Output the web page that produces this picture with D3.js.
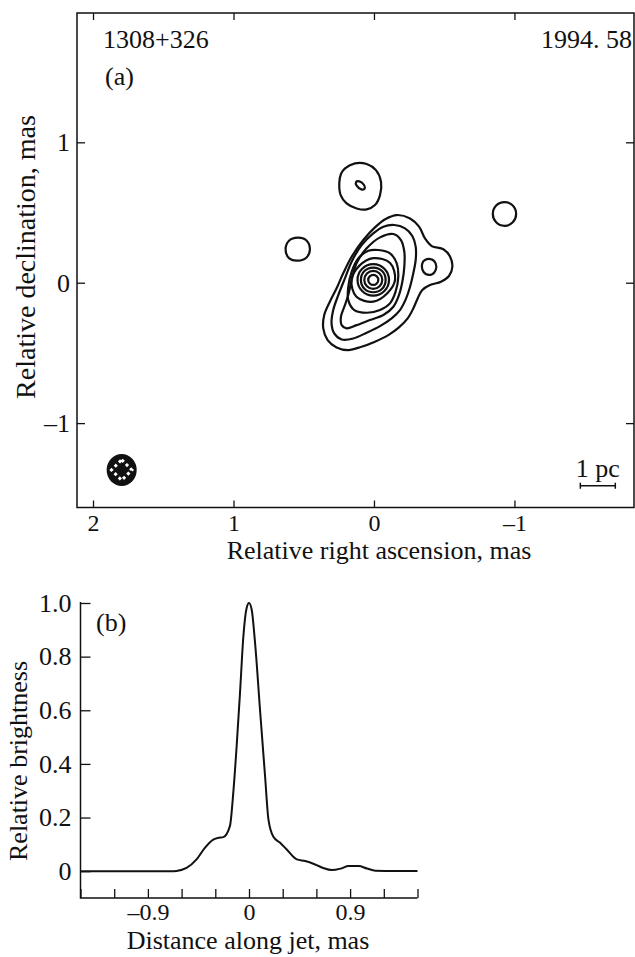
<!DOCTYPE html>
<meta charset="utf-8">
<style>
  body { margin: 0; background: #fff; }
  text { font-family: "Liberation Serif", "Times New Roman", serif; fill: #111; }
</style>
<svg width="635" height="957"></svg>
<script src="https://d3js.org/d3.v7.min.js"></script>
<script>

var svg = d3.select("svg");

var ink = "#111";
var fontSize = "26px";

// ---- panel (a): map, tick values ----
var raTicks = [2, 1, 0, -1];
var decTicks = [1, 0, -1];

// contours, [RA, Dec] in mas
var contour1 = [[-0.162,0.482],[-0.257,0.458],[-0.321,0.399],[-0.363,0.316],[-0.411,0.261],[-0.494,0.238],[-0.542,0.185],[-0.558,0.114],[-0.534,0.048],[-0.477,0.007],[-0.399,-0.017],[-0.344,-0.052],[-0.311,-0.112],[-0.280,-0.183],[-0.240,-0.254],[-0.178,-0.318],[-0.102,-0.373],[-0.007,-0.420],[0.088,-0.456],[0.183,-0.480],[0.266,-0.461],[0.330,-0.409],[0.361,-0.325],[0.354,-0.230],[0.314,-0.135],[0.266,-0.040],[0.219,0.067],[0.159,0.185],[0.076,0.304],[-0.007,0.394],[-0.083,0.454]];
var contour2 = [[-0.145,0.411],[-0.221,0.387],[-0.273,0.333],[-0.297,0.257],[-0.297,0.162],[-0.280,0.067],[-0.257,-0.029],[-0.226,-0.119],[-0.185,-0.195],[-0.126,-0.254],[-0.043,-0.309],[0.052,-0.356],[0.147,-0.397],[0.230,-0.404],[0.283,-0.361],[0.302,-0.290],[0.290,-0.195],[0.254,-0.088],[0.207,0.031],[0.159,0.150],[0.088,0.268],[0.005,0.352],[-0.067,0.399]];
var contour3 = [[-0.138,0.347],[-0.192,0.304],[-0.216,0.221],[-0.216,0.114],[-0.202,0.007],[-0.178,-0.088],[-0.138,-0.171],[-0.067,-0.230],[0.029,-0.266],[0.124,-0.302],[0.195,-0.325],[0.230,-0.302],[0.235,-0.242],[0.211,-0.171],[0.183,-0.088],[0.159,0.019],[0.124,0.138],[0.052,0.245],[-0.043,0.323]];
var contour4 = [[-0.031,0.233],[-0.114,0.209],[-0.162,0.138],[-0.173,0.043],[-0.154,-0.064],[-0.114,-0.147],[-0.043,-0.195],[0.052,-0.214],[0.140,-0.195],[0.183,-0.124],[0.183,-0.029],[0.159,0.078],[0.112,0.173],[0.040,0.228]];
var core5 = [[0.005,0.175],[-0.115,0.14],[-0.15,0.02],[-0.095,-0.075],[0.005,-0.135],[0.125,-0.1],[0.16,0.02],[0.105,0.12]];
var core4 = [[0.005,0.132],[-0.074,0.099],[-0.107,0.02],[-0.074,-0.059],[0.005,-0.092],[0.084,-0.059],[0.117,0.02],[0.084,0.099]];
var core3 = [[0.005,0.108],[-0.058,0.083],[-0.083,0.02],[-0.058,-0.043],[0.005,-0.068],[0.068,-0.043],[0.093,0.02],[0.068,0.083]];
var core2 = [[0.005,0.084],[-0.04,0.065],[-0.059,0.02],[-0.04,-0.025],[0.005,-0.044],[0.05,-0.025],[0.069,0.02],[0.05,0.065]];
var core1 = [[0.005,0.056],[-0.02,0.045],[-0.031,0.02],[-0.02,-0.005],[0.005,-0.016],[0.03,-0.005],[0.041,0.02],[0.03,0.045]];
var knotWest = [[-0.363,0.162],[-0.411,0.166],[-0.439,0.138],[-0.439,0.090],[-0.411,0.059],[-0.368,0.062],[-0.344,0.095],[-0.344,0.138]];
var blobNorth = [[0.206,0.814],[0.135,0.850],[0.052,0.845],[-0.014,0.802],[-0.050,0.719],[-0.043,0.624],[-0.007,0.553],[0.052,0.522],[0.123,0.529],[0.195,0.565],[0.237,0.624],[0.247,0.707],[0.235,0.774]];
var blobNorthPeak = [[0.128,0.717],[0.104,0.722],[0.071,0.696],[0.066,0.670],[0.090,0.665],[0.123,0.691]];
var blobEast = [[0.543,0.321],[0.484,0.304],[0.456,0.240],[0.480,0.180],[0.543,0.157],[0.603,0.173],[0.629,0.237],[0.605,0.299]];
var blobFarWest = [[-0.929,0.574],[-0.870,0.55],[-0.846,0.489],[-0.870,0.43],[-0.929,0.405],[-0.988,0.43],[-1.012,0.489],[-0.988,0.55]];

var contours = [contour1, contour2, contour3, contour4, core5, core4, core3, core2, core1,
                knotWest, blobNorth, blobNorthPeak, blobEast, blobFarWest];

// restoring beam [RA, Dec, semi-axis RA, semi-axis Dec] and 1 pc bar [RA from, RA to, Dec]
var beam = [1.796, -1.334, 0.107, 0.114];
var scaleBar = [-1.469, -1.718, -1.446];

// ---- panel (b): brightness profile along the jet ----
var profileDist = [-1.5, -1.2, -0.9, -0.7, -0.645, -0.556, -0.467, -0.393, -0.318, -0.27, -0.229, -0.17, -0.14, -0.11, -0.08, -0.05, -0.021, 0, 0.024, 0.054, 0.098, 0.143, 0.173, 0.217, 0.277, 0.336, 0.426, 0.5, 0.589, 0.66, 0.738, 0.82, 0.887, 0.976, 1.05, 1.125, 1.3, 1.5];
var profileBright = [0, 0, 0, 0, 0.001, 0.012, 0.044, 0.087, 0.118, 0.125, 0.127, 0.168, 0.292, 0.466, 0.665, 0.876, 0.981, 1.0, 0.975, 0.851, 0.602, 0.354, 0.193, 0.128, 0.106, 0.081, 0.044, 0.038, 0.025, 0.012, 0.004, 0.01, 0.019, 0.019, 0.01, 0.002, 0.001, 0.001];
var distTicks = [-1.5, -1.2, -0.9, -0.6, -0.3, 0, 0.3, 0.6, 0.9, 1.2, 1.5];
var distLabels = {"-0.9": "\u20130.9", "0": "0", "0.9": "0.9"};
var brightTicks = [0, 0.2, 0.4, 0.6, 0.8, 1.0];
var brightLabels = ["0", "0.2", "0.4", "0.6", "0.8", "1.0"];

function dash(v) { return v < 0 ? "\u2013" + Math.abs(v) : "" + v; }

// ================= panel (a) =================
var aLeft = 77, aRight = 634, aTop = 13, aBottom = 507.5;

var x = d3.scaleLinear().domain([2.114, -1.851]).range([aLeft, aRight]);
var y = d3.scaleLinear().domain([1.921, -1.601]).range([aTop, aBottom]);

var gA = svg.append("g");

gA.append("rect")
    .attr("x", aLeft).attr("y", aTop)
    .attr("width", aRight - aLeft).attr("height", aBottom - aTop)
    .attr("fill", "none").attr("stroke", ink).attr("stroke-width", 1.5);

function styleAxis(g) {
  g.select(".domain").remove();
  g.selectAll("line").attr("stroke", ink).attr("stroke-width", 1.3);
  g.selectAll("text")
      .style("font-family", "'Liberation Serif', serif")
      .style("font-size", fontSize)
      .attr("fill", ink);
}

gA.append("g").attr("transform", "translate(0," + aBottom + ")")
    .call(d3.axisBottom(x).tickValues(raTicks).tickSize(-7).tickPadding(6).tickFormat(dash))
    .call(styleAxis)
    .call(function(g) { g.selectAll("text").style("font-size", "24px"); });
gA.append("g").attr("transform", "translate(0," + aTop + ")")
    .call(d3.axisTop(x).tickValues(raTicks).tickSize(-7).tickFormat(""))
    .call(styleAxis);
gA.append("g").attr("transform", "translate(" + aLeft + ",0)")
    .call(d3.axisLeft(y).tickValues(decTicks).tickSize(-8).tickPadding(7).tickFormat(dash))
    .call(styleAxis);
gA.append("g").attr("transform", "translate(" + aRight + ",0)")
    .call(d3.axisRight(y).tickValues(decTicks).tickSize(-8).tickFormat(""))
    .call(styleAxis);

var contourLine = d3.line()
    .x(function(d) { return x(d[0]); })
    .y(function(d) { return y(d[1]); })
    .curve(d3.curveCatmullRomClosed.alpha(0.5));

gA.append("g")
  .selectAll("path")
  .data(contours)
  .enter().append("path")
    .attr("d", contourLine)
    .attr("fill", "none")
    .attr("stroke", ink)
    .attr("stroke-width", 2.2);

// beam
var bx = x(beam[0]), by = y(beam[1]);
var brx = Math.abs(x(beam[0] + beam[2]) - bx), bry = Math.abs(y(beam[1] + beam[3]) - by);
gA.append("ellipse")
    .attr("cx", bx).attr("cy", by).attr("rx", brx).attr("ry", bry)
    .attr("fill", ink);
var dr = brx * 0.68;
gA.append("path")
    .attr("d", "M" + bx + "," + (by - dr) + "L" + (bx + dr) + "," + by + "L" + bx + "," + (by + dr) + "L" + (bx - dr) + "," + by + "Z")
    .attr("fill", "none")
    .attr("stroke", "#fff")
    .attr("stroke-width", 3)
    .attr("stroke-dasharray", "3,3");

// scale bar
var sb = gA.append("g").attr("stroke", ink).attr("stroke-width", 1.5);
sb.append("line").attr("x1", x(scaleBar[0])).attr("x2", x(scaleBar[1]))
    .attr("y1", y(scaleBar[2])).attr("y2", y(scaleBar[2]));
[scaleBar[0], scaleBar[1]].forEach(function(v) {
  sb.append("line").attr("x1", x(v)).attr("x2", x(v))
      .attr("y1", y(scaleBar[2]) - 3).attr("y2", y(scaleBar[2]) + 3);
});
gA.append("text")
    .attr("x", (x(scaleBar[0]) + x(scaleBar[1])) / 2).attr("y", y(scaleBar[2]) - 9)
    .attr("text-anchor", "middle").style("font-size", fontSize)
    .text("1 pc");

gA.append("text").attr("x", 103).attr("y", 48).style("font-size", fontSize).text("1308+326");
gA.append("text").attr("x", 105).attr("y", 85).style("font-size", fontSize).text("(a)");
gA.append("text").attr("x", 632).attr("y", 48).attr("text-anchor", "end").style("font-size", fontSize).text("1994. 58");

gA.append("text")
    .attr("x", 379).attr("y", 559)
    .attr("text-anchor", "middle").style("font-size", fontSize)
    .text("Relative right ascension, mas");
gA.append("text")
    .attr("transform", "translate(35,257) rotate(-90)")
    .attr("text-anchor", "middle").style("font-size", "28px")
    .text("Relative declination, mas");

// ================= panel (b) =================
var bLeft = 80.5, bRight = 417.5, bTop = 602, bBottom = 898;

var xb = d3.scaleLinear().domain([-1.5, 1.5]).range([bLeft, bRight]);
var yb = d3.scaleLinear().domain([-0.1, 1.0]).range([bBottom, 603]);

var gB = svg.append("g");

gB.append("path")
    .attr("d", "M" + bLeft + "," + bTop + "V" + bBottom + "H" + bRight)
    .attr("fill", "none").attr("stroke", ink).attr("stroke-width", 1.5);

gB.append("g").attr("transform", "translate(0," + bBottom + ")")
    .call(d3.axisBottom(xb).tickValues(distTicks).tickSize(-9).tickPadding(5)
        .tickFormat(function(d) { return distLabels[String(d)] || ""; }))
    .call(styleAxis)
    .call(function(g) { g.selectAll("text").style("font-size", "24px"); });
gB.append("g").attr("transform", "translate(" + bLeft + ",0)")
    .call(d3.axisLeft(yb).tickValues(brightTicks).tickSize(-10).tickPadding(9)
        .tickFormat(function(d, i) { return brightLabels[i]; }))
    .call(styleAxis);

var profile = profileDist.map(function(d, i) { return [d, profileBright[i]]; });

gB.append("path")
    .datum(profile)
    .attr("d", d3.line()
        .x(function(d) { return xb(d[0]); })
        .y(function(d) { return yb(d[1]); })
        .curve(d3.curveMonotoneX))
    .attr("fill", "none")
    .attr("stroke", ink)
    .attr("stroke-width", 2);

gB.append("text").attr("x", 96).attr("y", 631).style("font-size", fontSize).text("(b)");

gB.append("text")
    .attr("x", 248).attr("y", 949)
    .attr("text-anchor", "middle").style("font-size", fontSize)
    .text("Distance along jet, mas");
gB.append("text")
    .attr("transform", "translate(27,761) rotate(-90)")
    .attr("text-anchor", "middle").style("font-size", fontSize)
    .text("Relative brightness");

</script>
